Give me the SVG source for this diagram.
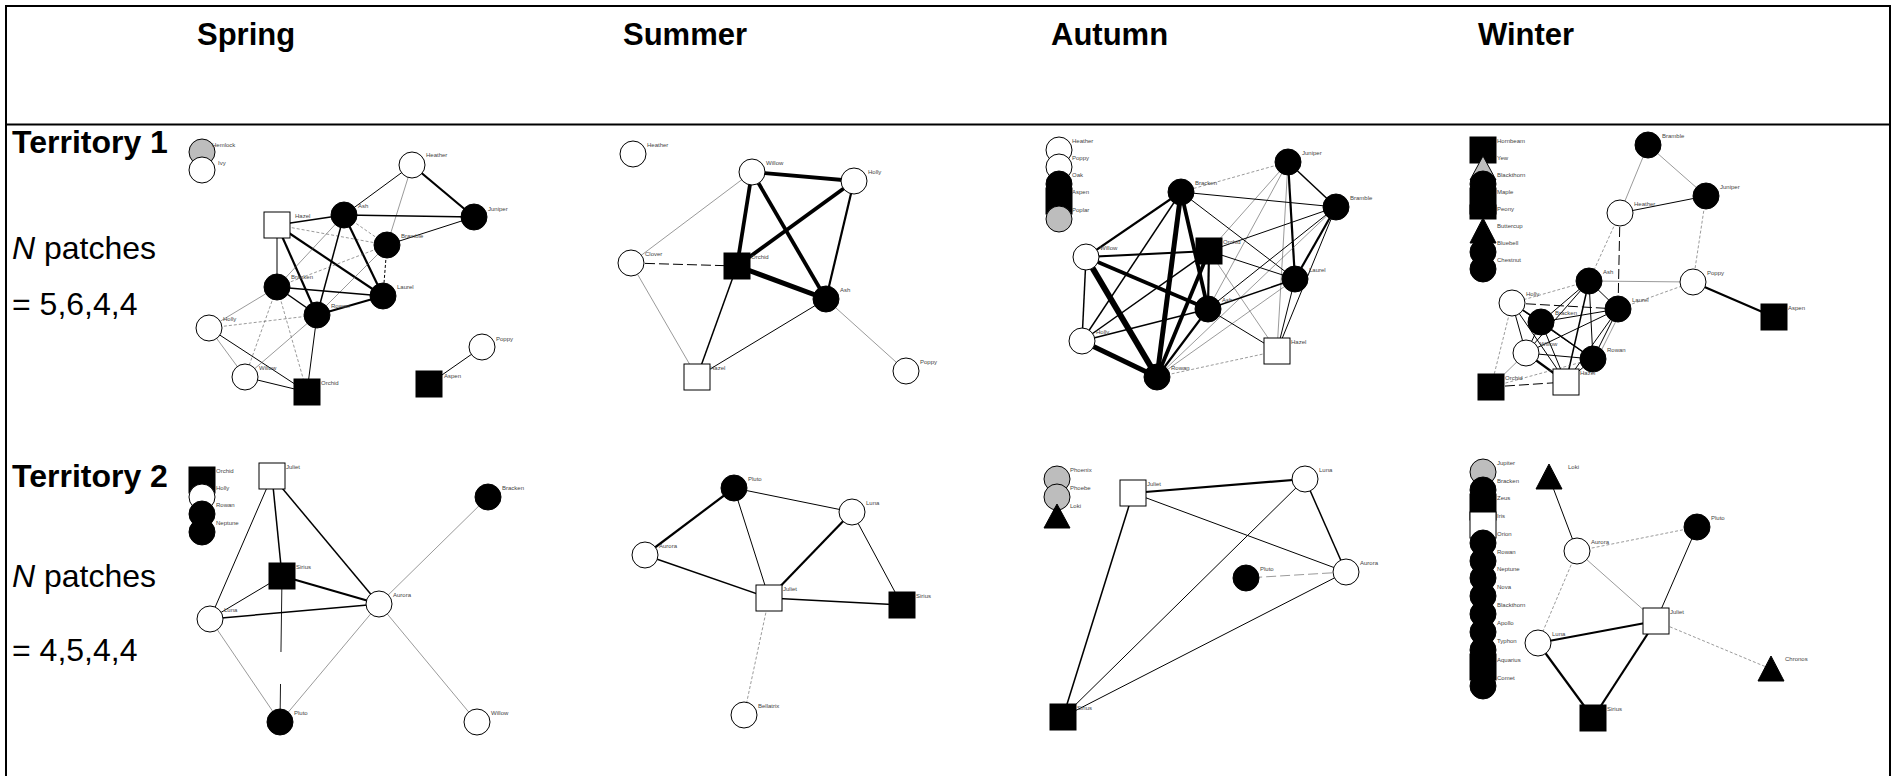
<svg xmlns="http://www.w3.org/2000/svg" width="1894" height="776" viewBox="0 0 1894 776">
<style>
  .frame{fill:none;stroke:#000;stroke-width:2}
  .hd{font-family:"Liberation Sans",Arial,sans-serif;font-size:31px;font-weight:bold;fill:#000}
  .hr{font-family:"Liberation Sans",Arial,sans-serif;font-size:32px;font-weight:bold;fill:#000}
  .rt{font-family:"Liberation Sans",Arial,sans-serif;font-size:32px;fill:#000}
  .w{fill:#fff;stroke:#000;stroke-width:1}
  .b{fill:#000;stroke:#000;stroke-width:1}
  .g{fill:#bdbdbd;stroke:#000;stroke-width:1}
  .lbl{font-family:"Liberation Sans",Arial,sans-serif;font-size:6px;fill:#444}
  .e{stroke:#000;fill:none;stroke-linecap:butt}
  .e0{stroke-width:0.6;stroke:#555}
  .e1{stroke-width:1}
  .e2{stroke-width:1.5}
  .e3{stroke-width:2.2}
  .e4{stroke-width:3.8}
  .e5{stroke-width:5}
  .e6{stroke-width:6}
  .d{stroke-dasharray:3 2}
  .dl{stroke-dasharray:10 4}
</style>

<!-- table frame -->
<g id="table">
  <line class="frame" x1="6" y1="6" x2="1890" y2="6"/>
  <line class="frame" x1="6" y1="5" x2="6" y2="776"/>
  <line class="frame" x1="1890" y1="5" x2="1890" y2="776"/>
  <line class="frame" x1="6" y1="124.5" x2="1890" y2="124.5"/>
</g>

<!-- column and row headings -->
<g id="headings">
  <text class="hd" x="197" y="45">Spring</text>
  <text class="hd" x="623" y="45">Summer</text>
  <text class="hd" x="1051" y="45">Autumn</text>
  <text class="hd" x="1478" y="45">Winter</text>
  <text class="hr" x="12" y="153">Territory 1</text>
  <text class="rt" x="12" y="259"><tspan font-style="italic">N</tspan> patches</text>
  <text class="rt" x="12" y="315">= 5,6,4,4</text>
  <text class="hr" x="12" y="487">Territory 2</text>
  <text class="rt" x="12" y="587"><tspan font-style="italic">N</tspan> patches</text>
  <text class="rt" x="12" y="661">= 4,5,4,4</text>
</g>

<!-- ===== Territory 1, Spring ===== -->
<g id="t1-spring">
  <g id="t1-spring-connectors">
    <line class="e e1" x1="412" y1="165" x2="344" y2="215"/>
    <line class="e e3" x1="412" y1="165" x2="474" y2="217"/>
    <line class="e e0" x1="412" y1="165" x2="387" y2="245"/>
    <line class="e e2" x1="344" y1="215" x2="474" y2="217"/>
    <line class="e e1" x1="387" y1="245" x2="474" y2="217"/>
    <line class="e e2" x1="277" y1="225" x2="344" y2="215"/>
    <line class="e e0 d" x1="277" y1="225" x2="387" y2="245"/>
    <line class="e e1" x1="277" y1="225" x2="277" y2="287"/>
    <line class="e e3" x1="277" y1="225" x2="317" y2="315"/>
    <line class="e e3" x1="277" y1="225" x2="383" y2="296"/>
    <line class="e e0 d" x1="344" y1="215" x2="387" y2="245"/>
    <line class="e e0" x1="344" y1="215" x2="277" y2="287"/>
    <line class="e e2" x1="344" y1="215" x2="317" y2="315"/>
    <line class="e e3" x1="344" y1="215" x2="383" y2="296"/>
    <line class="e e1 d" x1="387" y1="245" x2="383" y2="296"/>
    <line class="e e0 d" x1="387" y1="245" x2="277" y2="287"/>
    <line class="e e0" x1="387" y1="245" x2="317" y2="315"/>
    <line class="e e2" x1="277" y1="287" x2="383" y2="296"/>
    <line class="e e2" x1="277" y1="287" x2="317" y2="315"/>
    <line class="e e3" x1="317" y1="315" x2="383" y2="296"/>
    <line class="e e0" x1="209" y1="328" x2="277" y2="287"/>
    <line class="e e0 d" x1="209" y1="328" x2="317" y2="315"/>
    <line class="e e0" x1="209" y1="328" x2="245" y2="377"/>
    <line class="e e1" x1="209" y1="328" x2="307" y2="392"/>
    <line class="e e0 d" x1="277" y1="287" x2="245" y2="377"/>
    <line class="e e0 d" x1="277" y1="287" x2="307" y2="392"/>
    <line class="e e0" x1="317" y1="315" x2="245" y2="377"/>
    <line class="e e1" x1="317" y1="315" x2="307" y2="392"/>
    <line class="e e1" x1="245" y1="377" x2="307" y2="392"/>
    <line class="e e1" x1="482" y1="347" x2="429" y2="384"/>
  </g>
  <g id="t1-spring-hemlock"><circle class="g" cx="202" cy="152" r="13"/><text class="lbl" x="212" y="147">Hemlock</text></g>
  <g id="t1-spring-ivy"><circle class="w" cx="202" cy="170" r="13"/><text class="lbl" x="218" y="165">Ivy</text></g>
  <g id="t1-spring-heather"><circle class="w" cx="412" cy="165" r="13"/><text class="lbl" x="426" y="157">Heather</text></g>
  <g id="t1-spring-juniper"><circle class="b" cx="474" cy="217" r="13"/><text class="lbl" x="488" y="211">Juniper</text></g>
  <g id="t1-spring-ash"><circle class="b" cx="344" cy="215" r="13"/><text class="lbl" x="358" y="208">Ash</text></g>
  <g id="t1-spring-hazel"><rect class="w" x="264" y="212" width="26" height="26"/><text class="lbl" x="295" y="218">Hazel</text></g>
  <g id="t1-spring-bramble"><circle class="b" cx="387" cy="245" r="13"/><text class="lbl" x="401" y="238">Bramble</text></g>
  <g id="t1-spring-bracken"><circle class="b" cx="277" cy="287" r="13"/><text class="lbl" x="291" y="279">Bracken</text></g>
  <g id="t1-spring-laurel"><circle class="b" cx="383" cy="296" r="13"/><text class="lbl" x="397" y="289">Laurel</text></g>
  <g id="t1-spring-rowan"><circle class="b" cx="317" cy="315" r="13"/><text class="lbl" x="331" y="308">Rowan</text></g>
  <g id="t1-spring-holly"><circle class="w" cx="209" cy="328" r="13"/><text class="lbl" x="223" y="321">Holly</text></g>
  <g id="t1-spring-willow"><circle class="w" cx="245" cy="377" r="13"/><text class="lbl" x="259" y="370">Willow</text></g>
  <g id="t1-spring-orchid"><rect class="b" x="294" y="379" width="26" height="26"/><text class="lbl" x="321" y="385">Orchid</text></g>
  <g id="t1-spring-poppy"><circle class="w" cx="482" cy="347" r="13"/><text class="lbl" x="496" y="341">Poppy</text></g>
  <g id="t1-spring-aspen"><rect class="b" x="416" y="371" width="26" height="26"/><text class="lbl" x="444" y="378">Aspen</text></g>
</g>

<!-- ===== Territory 1, Summer ===== -->
<g id="t1-summer">
  <g id="t1-summer-connectors">
    <line class="e e4" x1="752" y1="172" x2="854" y2="181"/>
    <line class="e e4" x1="752" y1="172" x2="737" y2="266"/>
    <line class="e e4" x1="752" y1="172" x2="826" y2="299"/>
    <line class="e e4" x1="854" y1="181" x2="737" y2="266"/>
    <line class="e e3" x1="854" y1="181" x2="826" y2="299"/>
    <line class="e e5" x1="737" y1="266" x2="826" y2="299"/>
    <line class="e e0" x1="752" y1="172" x2="631" y2="263"/>
    <line class="e e1 dl" x1="631" y1="263" x2="737" y2="266"/>
    <line class="e e0" x1="631" y1="263" x2="697" y2="377"/>
    <line class="e e2" x1="737" y1="266" x2="697" y2="377"/>
    <line class="e e1" x1="697" y1="377" x2="826" y2="299"/>
    <line class="e e0" x1="826" y1="299" x2="906" y2="371"/>
  </g>
  <g id="t1-summer-heather"><circle class="w" cx="633" cy="154" r="13"/><text class="lbl" x="647" y="147">Heather</text></g>
  <g id="t1-summer-willow"><circle class="w" cx="752" cy="172" r="13"/><text class="lbl" x="766" y="165">Willow</text></g>
  <g id="t1-summer-holly"><circle class="w" cx="854" cy="181" r="13"/><text class="lbl" x="868" y="174">Holly</text></g>
  <g id="t1-summer-clover"><circle class="w" cx="631" cy="263" r="13"/><text class="lbl" x="645" y="256">Clover</text></g>
  <g id="t1-summer-orchid"><rect class="b" x="724" y="253" width="26" height="26"/><text class="lbl" x="751" y="259">Orchid</text></g>
  <g id="t1-summer-ash"><circle class="b" cx="826" cy="299" r="13"/><text class="lbl" x="840" y="292">Ash</text></g>
  <g id="t1-summer-hazel"><rect class="w" x="684" y="364" width="26" height="26"/><text class="lbl" x="710" y="370">Hazel</text></g>
  <g id="t1-summer-poppy"><circle class="w" cx="906" cy="371" r="13"/><text class="lbl" x="920" y="364">Poppy</text></g>
</g>

<!-- ===== Territory 1, Autumn ===== -->
<g id="t1-autumn">
  <g id="t1-autumn-connectors">
    <line class="e e0 d" x1="1288" y1="162" x2="1181" y2="192"/>
    <line class="e e2" x1="1288" y1="162" x2="1336" y2="207"/>
    <line class="e e3" x1="1288" y1="162" x2="1295" y2="279"/>
    <line class="e e0" x1="1288" y1="162" x2="1209" y2="251"/>
    <line class="e e0" x1="1288" y1="162" x2="1208" y2="309"/>
    <line class="e e0" x1="1288" y1="162" x2="1277" y2="351"/>
    <line class="e e1" x1="1181" y1="192" x2="1336" y2="207"/>
    <line class="e e3" x1="1181" y1="192" x2="1086" y2="257"/>
    <line class="e e2" x1="1181" y1="192" x2="1082" y2="341"/>
    <line class="e e5" x1="1181" y1="192" x2="1157" y2="377"/>
    <line class="e e4" x1="1181" y1="192" x2="1208" y2="309"/>
    <line class="e e1" x1="1181" y1="192" x2="1295" y2="279"/>
    <line class="e e1" x1="1336" y1="207" x2="1209" y2="251"/>
    <line class="e e1" x1="1336" y1="207" x2="1208" y2="309"/>
    <line class="e e3" x1="1336" y1="207" x2="1295" y2="279"/>
    <line class="e e1" x1="1336" y1="207" x2="1277" y2="351"/>
    <line class="e e0" x1="1336" y1="207" x2="1157" y2="377"/>
    <line class="e e3" x1="1086" y1="257" x2="1209" y2="251"/>
    <line class="e e4" x1="1086" y1="257" x2="1208" y2="309"/>
    <line class="e e2" x1="1086" y1="257" x2="1082" y2="341"/>
    <line class="e e6" x1="1086" y1="257" x2="1157" y2="377"/>
    <line class="e e3" x1="1209" y1="251" x2="1208" y2="309"/>
    <line class="e e4" x1="1209" y1="251" x2="1157" y2="377"/>
    <line class="e e2" x1="1209" y1="251" x2="1082" y2="341"/>
    <line class="e e1" x1="1209" y1="251" x2="1295" y2="279"/>
    <line class="e e0" x1="1209" y1="251" x2="1277" y2="351"/>
    <line class="e e2" x1="1295" y1="279" x2="1208" y2="309"/>
    <line class="e e1" x1="1295" y1="279" x2="1277" y2="351"/>
    <line class="e e0" x1="1295" y1="279" x2="1157" y2="377"/>
    <line class="e e2" x1="1208" y1="309" x2="1082" y2="341"/>
    <line class="e e3" x1="1208" y1="309" x2="1157" y2="377"/>
    <line class="e e1" x1="1208" y1="309" x2="1277" y2="351"/>
    <line class="e e5" x1="1082" y1="341" x2="1157" y2="377"/>
    <line class="e e0 d" x1="1157" y1="377" x2="1277" y2="351"/>
  </g>
  <g id="t1-autumn-heather"><circle class="w" cx="1059" cy="150" r="13"/><text class="lbl" x="1072" y="143">Heather</text></g>
  <g id="t1-autumn-poppy"><circle class="w" cx="1059" cy="167" r="13"/><text class="lbl" x="1072" y="160">Poppy</text></g>
  <g id="t1-autumn-oak"><circle class="b" cx="1059" cy="184" r="13"/><text class="lbl" x="1072" y="177">Oak</text></g>
  <g id="t1-autumn-aspen"><rect class="b" x="1046" y="188" width="26" height="26"/><text class="lbl" x="1072" y="194">Aspen</text></g>
  <g id="t1-autumn-poplar"><circle class="g" cx="1059" cy="219" r="13"/><text class="lbl" x="1072" y="212">Poplar</text></g>
  <g id="t1-autumn-juniper"><circle class="b" cx="1288" cy="162" r="13"/><text class="lbl" x="1302" y="155">Juniper</text></g>
  <g id="t1-autumn-bracken"><circle class="b" cx="1181" cy="192" r="13"/><text class="lbl" x="1195" y="185">Bracken</text></g>
  <g id="t1-autumn-bramble"><circle class="b" cx="1336" cy="207" r="13"/><text class="lbl" x="1350" y="200">Bramble</text></g>
  <g id="t1-autumn-orchid"><rect class="b" x="1196" y="238" width="26" height="26"/><text class="lbl" x="1223" y="244">Orchid</text></g>
  <g id="t1-autumn-willow"><circle class="w" cx="1086" cy="257" r="13"/><text class="lbl" x="1100" y="250">Willow</text></g>
  <g id="t1-autumn-laurel"><circle class="b" cx="1295" cy="279" r="13"/><text class="lbl" x="1309" y="272">Laurel</text></g>
  <g id="t1-autumn-ash"><circle class="b" cx="1208" cy="309" r="13"/><text class="lbl" x="1222" y="302">Ash</text></g>
  <g id="t1-autumn-holly"><circle class="w" cx="1082" cy="341" r="13"/><text class="lbl" x="1096" y="334">Holly</text></g>
  <g id="t1-autumn-hazel"><rect class="w" x="1264" y="338" width="26" height="26"/><text class="lbl" x="1291" y="344">Hazel</text></g>
  <g id="t1-autumn-rowan"><circle class="b" cx="1157" cy="377" r="13"/><text class="lbl" x="1171" y="370">Rowan</text></g>
</g>

<!-- ===== Territory 1, Winter ===== -->
<g id="t1-winter">
  <g id="t1-winter-connectors">
    <line class="e e0" x1="1648" y1="145" x2="1620" y2="213"/>
    <line class="e e0" x1="1648" y1="145" x2="1706" y2="196"/>
    <line class="e e1" x1="1706" y1="196" x2="1620" y2="213"/>
    <line class="e e0 d" x1="1706" y1="196" x2="1693" y2="282"/>
    <line class="e e0 d" x1="1620" y1="213" x2="1589" y2="281"/>
    <line class="e e1 dl" x1="1620" y1="213" x2="1618" y2="309"/>
    <line class="e e0" x1="1589" y1="281" x2="1693" y2="282"/>
    <line class="e e0 d" x1="1618" y1="309" x2="1693" y2="282"/>
    <line class="e e3" x1="1693" y1="282" x2="1774" y2="317"/>
    <line class="e e0 d" x1="1589" y1="281" x2="1512" y2="303"/>
    <line class="e e1" x1="1589" y1="281" x2="1541" y2="322"/>
    <line class="e e1" x1="1589" y1="281" x2="1618" y2="309"/>
    <line class="e e1" x1="1589" y1="281" x2="1526" y2="353"/>
    <line class="e e2" x1="1589" y1="281" x2="1566" y2="382"/>
    <line class="e e1" x1="1589" y1="281" x2="1593" y2="359"/>
    <line class="e e1 dl" x1="1512" y1="303" x2="1618" y2="309"/>
    <line class="e e2" x1="1512" y1="303" x2="1541" y2="322"/>
    <line class="e e1" x1="1512" y1="303" x2="1526" y2="353"/>
    <line class="e e0 d" x1="1512" y1="303" x2="1491" y2="387"/>
    <line class="e e1" x1="1512" y1="303" x2="1566" y2="382"/>
    <line class="e e1" x1="1512" y1="303" x2="1593" y2="359"/>
    <line class="e e1" x1="1541" y1="322" x2="1618" y2="309"/>
    <line class="e e1" x1="1541" y1="322" x2="1526" y2="353"/>
    <line class="e e1" x1="1541" y1="322" x2="1566" y2="382"/>
    <line class="e e2" x1="1541" y1="322" x2="1593" y2="359"/>
    <line class="e e1" x1="1618" y1="309" x2="1526" y2="353"/>
    <line class="e e1" x1="1618" y1="309" x2="1593" y2="359"/>
    <line class="e e0" x1="1622" y1="309" x2="1597" y2="359"/>
    <line class="e e1" x1="1618" y1="309" x2="1566" y2="382"/>
    <line class="e e1" x1="1526" y1="353" x2="1593" y2="359"/>
    <line class="e e3" x1="1526" y1="353" x2="1566" y2="382"/>
    <line class="e e0" x1="1526" y1="353" x2="1491" y2="387"/>
    <line class="e e1" x1="1593" y1="359" x2="1566" y2="382"/>
    <line class="e e1 dl" x1="1491" y1="387" x2="1566" y2="382"/>
    <line class="e e0 d" x1="1491" y1="387" x2="1593" y2="359"/>
  </g>
  <g id="t1-winter-hornbeam"><rect class="b" x="1470" y="137" width="26" height="26"/><text class="lbl" x="1497" y="143">Hornbeam</text></g>
  <g id="t1-winter-yew"><polygon class="g" points="1483,156 1470,180 1496,180"/><text class="lbl" x="1497" y="160">Yew</text></g>
  <g id="t1-winter-blackthorn"><circle class="b" cx="1483" cy="184" r="13"/><text class="lbl" x="1497" y="177">Blackthorn</text></g>
  <g id="t1-winter-maple"><rect class="b" x="1470" y="188" width="26" height="26"/><text class="lbl" x="1497" y="194">Maple</text></g>
  <g id="t1-winter-peony"><rect class="b" x="1470" y="205" width="26" height="14"/><text class="lbl" x="1497" y="211">Peony</text></g>
  <g id="t1-winter-buttercup"><polygon class="b" points="1483,218 1470,243 1496,243"/><text class="lbl" x="1497" y="228">Buttercup</text></g>
  <g id="t1-winter-bluebell"><circle class="b" cx="1483" cy="252" r="13"/><text class="lbl" x="1497" y="245">Bluebell</text></g>
  <g id="t1-winter-chestnut"><circle class="b" cx="1483" cy="269" r="13"/><text class="lbl" x="1497" y="262">Chestnut</text></g>
  <g id="t1-winter-bramble"><circle class="b" cx="1648" cy="145" r="13"/><text class="lbl" x="1662" y="138">Bramble</text></g>
  <g id="t1-winter-juniper"><circle class="b" cx="1706" cy="196" r="13"/><text class="lbl" x="1720" y="189">Juniper</text></g>
  <g id="t1-winter-heather"><circle class="w" cx="1620" cy="213" r="13"/><text class="lbl" x="1634" y="206">Heather</text></g>
  <g id="t1-winter-ash"><circle class="b" cx="1589" cy="281" r="13"/><text class="lbl" x="1603" y="274">Ash</text></g>
  <g id="t1-winter-poppy"><circle class="w" cx="1693" cy="282" r="13"/><text class="lbl" x="1707" y="275">Poppy</text></g>
  <g id="t1-winter-holly"><circle class="w" cx="1512" cy="303" r="13"/><text class="lbl" x="1526" y="296">Holly</text></g>
  <g id="t1-winter-laurel"><circle class="b" cx="1618" cy="309" r="13"/><text class="lbl" x="1632" y="302">Laurel</text></g>
  <g id="t1-winter-bracken"><circle class="b" cx="1541" cy="322" r="13"/><text class="lbl" x="1555" y="315">Bracken</text></g>
  <g id="t1-winter-aspen"><rect class="b" x="1761" y="304" width="26" height="26"/><text class="lbl" x="1788" y="310">Aspen</text></g>
  <g id="t1-winter-willow"><circle class="w" cx="1526" cy="353" r="13"/><text class="lbl" x="1540" y="346">Willow</text></g>
  <g id="t1-winter-rowan"><circle class="b" cx="1593" cy="359" r="13"/><text class="lbl" x="1607" y="352">Rowan</text></g>
  <g id="t1-winter-orchid"><rect class="b" x="1478" y="374" width="26" height="26"/><text class="lbl" x="1505" y="380">Orchid</text></g>
  <g id="t1-winter-hazel"><rect class="w" x="1553" y="369" width="26" height="26"/><text class="lbl" x="1580" y="375">Hazel</text></g>
</g>

<!-- ===== Territory 2, Spring ===== -->
<g id="t2-spring">
  <g id="t2-spring-connectors">
    <line class="e e1" x1="272" y1="476" x2="210" y2="619"/>
    <line class="e e2" x1="272" y1="476" x2="282" y2="576"/>
    <line class="e e2" x1="272" y1="476" x2="379" y2="604"/>
    <line class="e e1" x1="282" y1="576" x2="210" y2="619"/>
    <line class="e e3" x1="282" y1="576" x2="379" y2="604"/>
    <line class="e e2" x1="210" y1="619" x2="379" y2="604"/>
    <line class="e" stroke-width="0.9" x1="282" y1="576" x2="280" y2="722" stroke-dasharray="76 32 200"/>
    <line class="e e0" x1="210" y1="619" x2="280" y2="722"/>
    <line class="e e0" x1="379" y1="604" x2="280" y2="722"/>
    <line class="e e0" x1="379" y1="604" x2="488" y2="497"/>
    <line class="e e0" x1="379" y1="604" x2="477" y2="722"/>
  </g>
  <g id="t2-spring-orchid"><rect class="b" x="189" y="467" width="26" height="26"/><text class="lbl" x="216" y="473">Orchid</text></g>
  <g id="t2-spring-holly"><circle class="w" cx="202" cy="497" r="13"/><text class="lbl" x="216" y="490">Holly</text></g>
  <g id="t2-spring-rowan"><circle class="b" cx="202" cy="514" r="13"/><text class="lbl" x="216" y="507">Rowan</text></g>
  <g id="t2-spring-neptune"><circle class="b" cx="202" cy="532" r="13"/><text class="lbl" x="216" y="525">Neptune</text></g>
  <g id="t2-spring-juliet"><rect class="w" x="259" y="463" width="26" height="26"/><text class="lbl" x="286" y="469">Juliet</text></g>
  <g id="t2-spring-bracken"><circle class="b" cx="488" cy="497" r="13"/><text class="lbl" x="502" y="490">Bracken</text></g>
  <g id="t2-spring-sirius"><rect class="b" x="269" y="563" width="26" height="26"/><text class="lbl" x="296" y="569">Sirius</text></g>
  <g id="t2-spring-luna"><circle class="w" cx="210" cy="619" r="13"/><text class="lbl" x="224" y="612">Luna</text></g>
  <g id="t2-spring-aurora"><circle class="w" cx="379" cy="604" r="13"/><text class="lbl" x="393" y="597">Aurora</text></g>
  <g id="t2-spring-pluto"><circle class="b" cx="280" cy="722" r="13"/><text class="lbl" x="294" y="715">Pluto</text></g>
  <g id="t2-spring-willow"><circle class="w" cx="477" cy="722" r="13"/><text class="lbl" x="491" y="715">Willow</text></g>
</g>

<!-- ===== Territory 2, Summer ===== -->
<g id="t2-summer">
  <g id="t2-summer-connectors">
    <line class="e e3" x1="734" y1="488" x2="645" y2="555"/>
    <line class="e e1" x1="734" y1="488" x2="852" y2="512"/>
    <line class="e e1" x1="734" y1="488" x2="769" y2="598"/>
    <line class="e e2" x1="645" y1="555" x2="769" y2="598"/>
    <line class="e e3" x1="852" y1="512" x2="769" y2="598" stroke-width="2.8"/>
    <line class="e e1" x1="852" y1="512" x2="902" y2="605"/>
    <line class="e e2" x1="769" y1="598" x2="902" y2="605"/>
    <line class="e e0 d" x1="769" y1="598" x2="744" y2="715"/>
  </g>
  <g id="t2-summer-pluto"><circle class="b" cx="734" cy="488" r="13"/><text class="lbl" x="748" y="481">Pluto</text></g>
  <g id="t2-summer-luna"><circle class="w" cx="852" cy="512" r="13"/><text class="lbl" x="866" y="505">Luna</text></g>
  <g id="t2-summer-aurora"><circle class="w" cx="645" cy="555" r="13"/><text class="lbl" x="659" y="548">Aurora</text></g>
  <g id="t2-summer-juliet"><rect class="w" x="756" y="585" width="26" height="26"/><text class="lbl" x="783" y="591">Juliet</text></g>
  <g id="t2-summer-sirius"><rect class="b" x="889" y="592" width="26" height="26"/><text class="lbl" x="916" y="598">Sirius</text></g>
  <g id="t2-summer-bellatrix"><circle class="w" cx="744" cy="715" r="13"/><text class="lbl" x="758" y="708">Bellatrix</text></g>
</g>

<!-- ===== Territory 2, Autumn ===== -->
<g id="t2-autumn">
  <g id="t2-autumn-connectors">
    <line class="e e3" x1="1133" y1="493" x2="1305" y2="479"/>
    <line class="e e1" x1="1133" y1="493" x2="1346" y2="572"/>
    <line class="e e2" x1="1133" y1="493" x2="1063" y2="717"/>
    <line class="e e2" x1="1305" y1="479" x2="1346" y2="572"/>
    <line class="e e1" x1="1305" y1="479" x2="1063" y2="717"/>
    <line class="e e1" x1="1346" y1="572" x2="1063" y2="717"/>
    <line class="e e0 dl" x1="1346" y1="572" x2="1246" y2="578"/>
  </g>
  <g id="t2-autumn-phoenix"><circle class="g" cx="1057" cy="479" r="13"/><text class="lbl" x="1070" y="472">Phoenix</text></g>
  <g id="t2-autumn-phoebe"><circle class="g" cx="1057" cy="497" r="13"/><text class="lbl" x="1070" y="490">Phoebe</text></g>
  <g id="t2-autumn-loki"><polygon class="b" points="1057,504 1044,528 1070,528"/><text class="lbl" x="1070" y="508">Loki</text></g>
  <g id="t2-autumn-juliet"><rect class="w" x="1120" y="480" width="26" height="26"/><text class="lbl" x="1147" y="486">Juliet</text></g>
  <g id="t2-autumn-luna"><circle class="w" cx="1305" cy="479" r="13"/><text class="lbl" x="1319" y="472">Luna</text></g>
  <g id="t2-autumn-aurora"><circle class="w" cx="1346" cy="572" r="13"/><text class="lbl" x="1360" y="565">Aurora</text></g>
  <g id="t2-autumn-pluto"><circle class="b" cx="1246" cy="578" r="13"/><text class="lbl" x="1260" y="571">Pluto</text></g>
  <g id="t2-autumn-sirius"><rect class="b" x="1050" y="704" width="26" height="26"/><text class="lbl" x="1077" y="710">Sirius</text></g>
</g>

<!-- ===== Territory 2, Winter ===== -->
<g id="t2-winter">
  <g id="t2-winter-connectors">
    <line class="e e1" x1="1549" y1="477" x2="1577" y2="551"/>
    <line class="e e0 d" x1="1577" y1="551" x2="1697" y2="527"/>
    <line class="e e0" x1="1577" y1="551" x2="1656" y2="621"/>
    <line class="e e0 d" x1="1577" y1="551" x2="1538" y2="643"/>
    <line class="e e1" x1="1697" y1="527" x2="1656" y2="621"/>
    <line class="e e3" x1="1656" y1="621" x2="1538" y2="643" stroke-width="3"/>
    <line class="e e0 d" x1="1656" y1="621" x2="1771" y2="669"/>
    <line class="e e3" x1="1656" y1="621" x2="1593" y2="718"/>
    <line class="e e3" x1="1538" y1="643" x2="1593" y2="718"/>
  </g>
  <g id="t2-winter-jupiter"><circle class="g" cx="1483" cy="472" r="13"/><text class="lbl" x="1497" y="465">Jupiter</text></g>
  <g id="t2-winter-bracken"><circle class="b" cx="1483" cy="490" r="13"/><text class="lbl" x="1497" y="483">Bracken</text></g>
  <g id="t2-winter-zeus"><rect class="b" x="1470" y="494" width="26" height="26"/><text class="lbl" x="1497" y="500">Zeus</text></g>
  <g id="t2-winter-iris"><rect class="w" x="1470" y="512" width="26" height="26"/><text class="lbl" x="1497" y="518">Iris</text></g>
  <g id="t2-winter-orion"><circle class="b" cx="1483" cy="543" r="13"/><text class="lbl" x="1497" y="536">Orion</text></g>
  <g id="t2-winter-rowan"><circle class="b" cx="1483" cy="561" r="13"/><text class="lbl" x="1497" y="554">Rowan</text></g>
  <g id="t2-winter-neptune"><circle class="b" cx="1483" cy="578" r="13"/><text class="lbl" x="1497" y="571">Neptune</text></g>
  <g id="t2-winter-nova"><circle class="b" cx="1483" cy="596" r="13"/><text class="lbl" x="1497" y="589">Nova</text></g>
  <g id="t2-winter-blackthorn"><circle class="b" cx="1483" cy="614" r="13"/><text class="lbl" x="1497" y="607">Blackthorn</text></g>
  <g id="t2-winter-apollo"><circle class="b" cx="1483" cy="632" r="13"/><text class="lbl" x="1497" y="625">Apollo</text></g>
  <g id="t2-winter-typhon"><circle class="b" cx="1483" cy="650" r="13"/><text class="lbl" x="1497" y="643">Typhon</text></g>
  <g id="t2-winter-aquarius"><rect class="b" x="1470" y="654" width="26" height="26"/><text class="lbl" x="1497" y="662">Aquarius</text></g>
  <g id="t2-winter-comet"><circle class="b" cx="1483" cy="686" r="13"/><text class="lbl" x="1497" y="680">Comet</text></g>
  <g id="t2-winter-loki"><polygon class="b" points="1549,464 1536,489 1562,489"/><text class="lbl" x="1568" y="469">Loki</text></g>
  <g id="t2-winter-pluto"><circle class="b" cx="1697" cy="527" r="13"/><text class="lbl" x="1711" y="520">Pluto</text></g>
  <g id="t2-winter-aurora"><circle class="w" cx="1577" cy="551" r="13"/><text class="lbl" x="1591" y="544">Aurora</text></g>
  <g id="t2-winter-juliet"><rect class="w" x="1643" y="608" width="26" height="26"/><text class="lbl" x="1670" y="614">Juliet</text></g>
  <g id="t2-winter-luna"><circle class="w" cx="1538" cy="643" r="13"/><text class="lbl" x="1552" y="636">Luna</text></g>
  <g id="t2-winter-chronos"><polygon class="b" points="1771,656 1758,681 1784,681"/><text class="lbl" x="1785" y="661">Chronos</text></g>
  <g id="t2-winter-sirius"><rect class="b" x="1580" y="705" width="26" height="26"/><text class="lbl" x="1607" y="711">Sirius</text></g>
</g>
</svg>
